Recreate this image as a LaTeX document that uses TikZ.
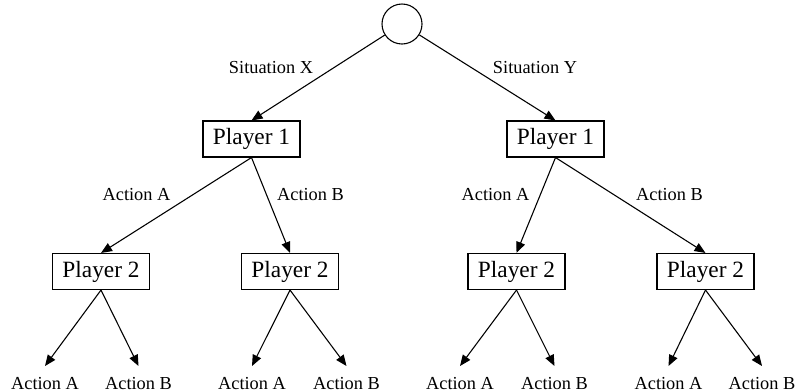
\documentclass[tikz,border=0pt]{standalone}
\usepackage{fontspec}
\setmainfont{Liberation Serif}
\usetikzlibrary{arrows.meta}
\begin{document}
\begin{tikzpicture}[x=0.6pt,y=-0.6pt,
  edge/.style={draw, line width=0.65pt, -{Triangle[length=6.6pt,width=5.4pt]}},
  player/.style={draw, line width=0.65pt, inner sep=0pt, minimum width=58.2pt, minimum height=21.6pt, font=\fontsize{14}{16}\selectfont},
  rootnode/.style={draw, line width=0.65pt, circle, inner sep=0pt, minimum size=24pt},
  leaf/.style={inner xsep=0pt, inner ysep=6.6pt, text height=7.3pt, text depth=0pt, anchor=north, font=\fontsize{11}{13}\selectfont},
  elabel/.style={anchor=base, inner sep=0pt, font=\fontsize{11}{13}\selectfont}]
\useasboundingbox (0,0) rectangle (795,391);
\node[rootnode] (root) at (402,24) {};
\node[player] (p1a) at (251.5,139) {Player 1};
\node[player] (p1b) at (555.5,139) {Player 1};
\node[player] (p2a) at (101,271.5) {Player 2};
\node[player] (p2b) at (290,271.5) {Player 2};
\node[player] (p2c) at (516.5,271.5) {Player 2};
\node[player] (p2d) at (705.5,271.5) {Player 2};
\node[leaf] (l1) at (45,366) {Action A};
\node[leaf] (l2) at (138.5,366) {Action B};
\node[leaf] (l3) at (252,366) {Action A};
\node[leaf] (l4) at (346.5,366) {Action B};
\node[leaf] (l5) at (460,366) {Action A};
\node[leaf] (l6) at (554.5,366) {Action B};
\node[leaf] (l7) at (668.5,366) {Action A};
\node[leaf] (l8) at (762,366) {Action B};
\node[elabel] (sx) at (271,73) {Situation X};
\node[elabel] (sy) at (535,73) {Situation Y};
\node[elabel] (a1) at (136.5,200) {Action A};
\node[elabel] (b1) at (310.5,200) {Action B};
\node[elabel] (a2) at (495.5,200) {Action A};
\node[elabel] (b2) at (669.5,200) {Action B};
\draw[edge] (root) -- (p1a.north);
\draw[edge] (root) -- (p1b.north);
\draw[edge] (p1a.south) -- (p2a.north);
\draw[edge] (p1a.south) -- (p2b.north);
\draw[edge] (p1b.south) -- (p2c.north);
\draw[edge] (p1b.south) -- (p2d.north);
\draw[edge] (p2a.south) -- (l1.north);
\draw[edge] (p2a.south) -- (l2.north);
\draw[edge] (p2b.south) -- (l3.north);
\draw[edge] (p2b.south) -- (l4.north);
\draw[edge] (p2c.south) -- (l5.north);
\draw[edge] (p2c.south) -- (l6.north);
\draw[edge] (p2d.south) -- (l7.north);
\draw[edge] (p2d.south) -- (l8.north);
\end{tikzpicture}
\end{document}
